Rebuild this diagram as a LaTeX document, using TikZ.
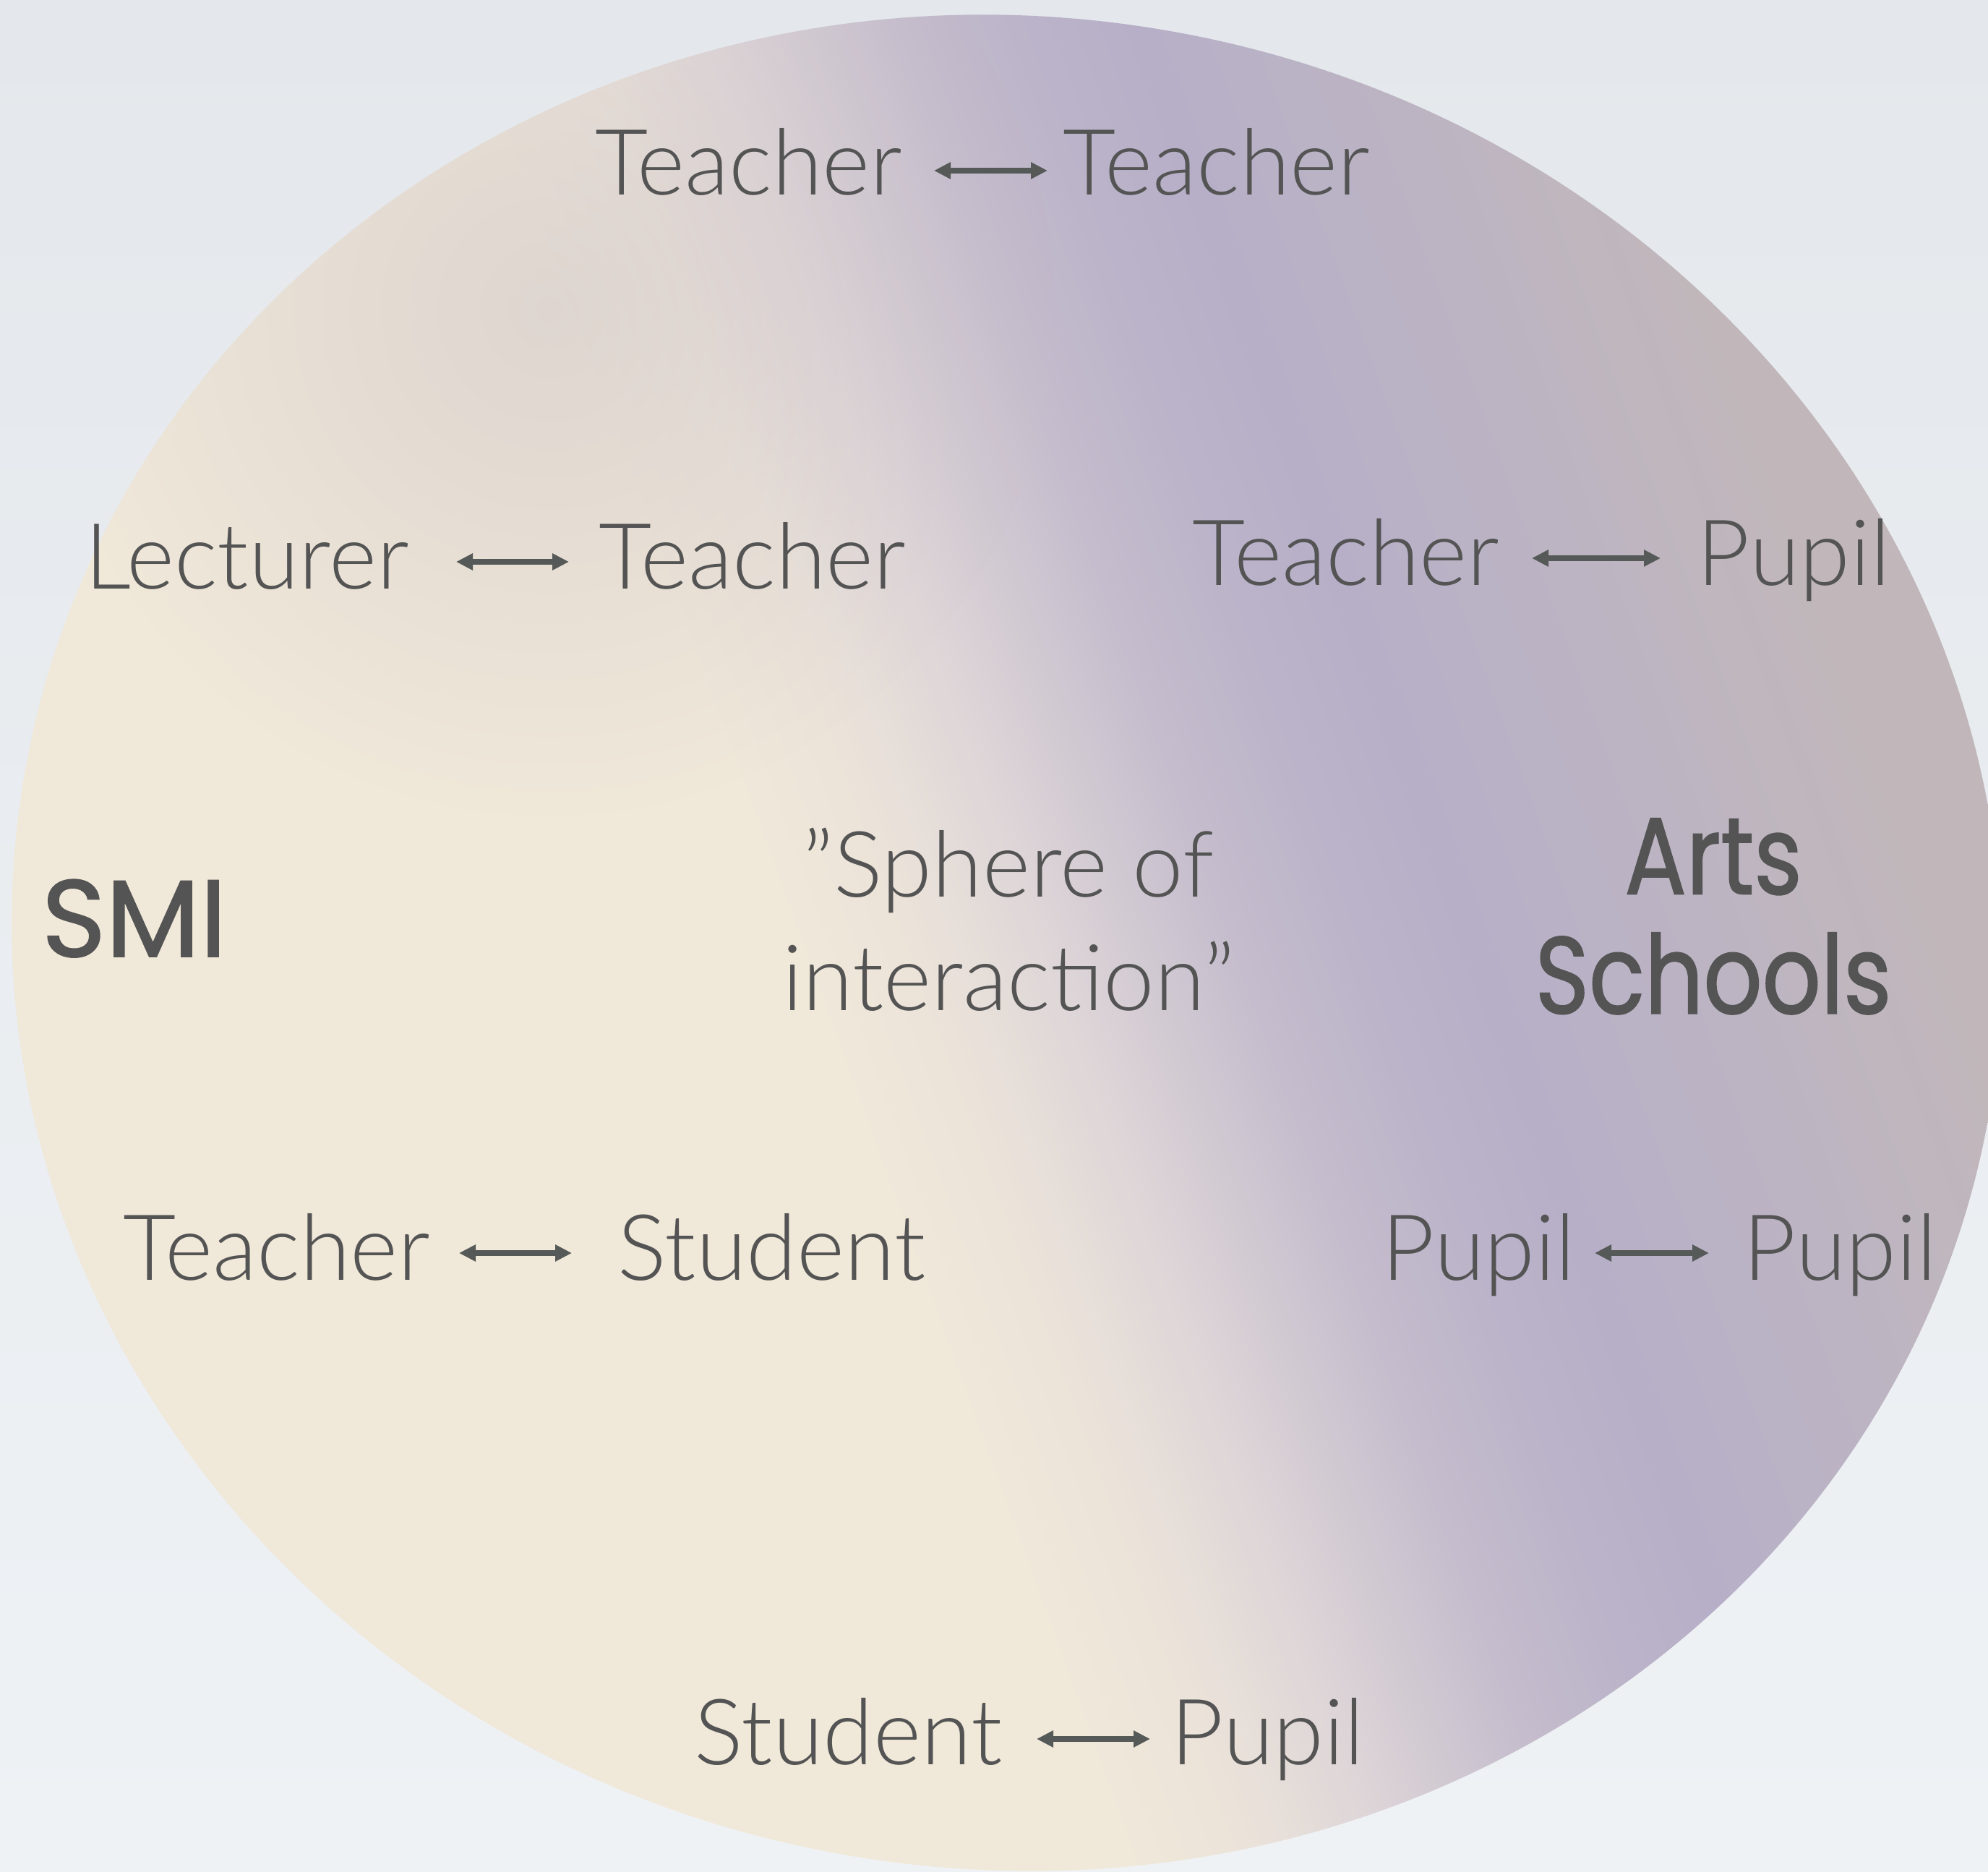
\documentclass[tikz,border=0pt]{standalone}
\usepackage{fontspec}
\newfontfamily\thinfont{Lato Light}
\newfontfamily\heavyfont{Poppins}[FakeStretch=0.84,FakeBold=1.2]
\usetikzlibrary{positioning,arrows.meta,fadings}

\definecolor{papertop}{HTML}{E4E8EC}
\definecolor{paperbot}{HTML}{EFF2F5}
\definecolor{sand}{HTML}{F0E8D9}
\definecolor{sandA}{HTML}{EBE3D9}
\definecolor{sandB}{HTML}{DFD7D8}
\definecolor{lilacA}{HTML}{D2CAD2}
\definecolor{lilacB}{HTML}{C6BECD}
\definecolor{lilacC}{HTML}{BCB4C9}
\definecolor{lilacD}{HTML}{B7AFC8}
\definecolor{lilacE}{HTML}{BBB3C4}
\definecolor{mauveA}{HTML}{BFB6BE}
\definecolor{mauveB}{HTML}{C1B7BA}
\definecolor{mist}{HTML}{CCC3C7}
\definecolor{ink}{HTML}{545454}
\definecolor{arrowink}{HTML}{555957}

\pgfdeclarehorizontalshading{blend}{100bp}{color(0bp)=(sand); color(45.6bp)=(sand);
  color(48.2bp)=(sandA); color(50.6bp)=(sandB); color(52.6bp)=(lilacA);
  color(54.4bp)=(lilacB); color(56.9bp)=(lilacC); color(59.4bp)=(lilacD);
  color(63.1bp)=(lilacE); color(67bp)=(mauveA); color(69.5bp)=(mauveB); color(100bp)=(mauveB)}
\tikzfading[name=haze, inner color=transparent!0, outer color=transparent!100]

\begin{document}
\begin{tikzpicture}[>={Triangle[length=2.3mm,width=2.2mm]},
    every node/.style={inner sep=0pt,text=ink},
    word/.style={font=\thinfont\fontsize{36}{44.8}\selectfont},
    group/.style={font=\heavyfont\fontsize{43}{47}\selectfont},
    pair/.style 2 args={<->,draw=arrowink,line width=0.8mm,shorten <=#1,shorten >=#2}]

    % paper and the sphere
    \shade[top color=papertop, bottom color=paperbot] (0,0) rectangle (27.5,25.88);
    \useasboundingbox (0,0) rectangle (27.5,25.88);
    \begin{scope}
        \clip[rotate around={-9:(13.93,12.84)}] (13.93,12.84) ellipse [x radius=13.79cm, y radius=12.81cm];
        \begin{scope}[transform canvas={rotate around={20:(13.93,12.84)}}]
            \shade[shading=blend] (-2.07,-3.16) rectangle (29.93,28.84);
        \end{scope}
        \fill[mist, fill opacity=0.5, path fading=haze] (7.6,21.6) circle (7);
    \end{scope}

    % the two sides
    \node[group, font=\heavyfont\addfontfeature{FakeStretch=1}\fontsize{43}{47}\selectfont,
          anchor=base west] (smi) at (0.57,12.65) {SMI};
    \node[group, align=center, anchor=north] (arts) at (23.70,14.57) {Arts\\Schools};
    \node[word, align=center, anchor=north] (sphere) at (13.95,14.44) {”Sphere of\\interaction”};

    % the pairs
    \node[word, anchor=base east] (tchA) at (12.49,23.18) {Teacher};
    \node[word, base right=2.21cm of tchA] (tchB) {Teacher};
    \draw[pair={0.43cm}{0.21cm}] ([yshift=3.4mm]tchA.base east) -- ([yshift=3.4mm]tchB.base west);

    \node[word, anchor=base east] (lec) at (5.66,17.73) {Lecturer};
    \node[word, base right=2.62cm of lec] (tchC) {Teacher};
    \draw[pair={0.65cm}{0.41cm}] ([yshift=3.8mm]lec.base east) -- ([yshift=3.8mm]tchC.base west);

    \node[word, anchor=base east] (tchD) at (20.75,17.78) {Teacher};
    \node[word, base right=2.72cm of tchD] (pupA) {Pupil};
    \draw[pair={0.44cm}{0.50cm}] ([yshift=3.8mm]tchD.base east) -- ([yshift=3.8mm]pupA.base west);

    \node[word, anchor=base east] (tchE) at (5.96,8.17) {Teacher};
    \node[word, base right=2.58cm of tchE] (stuA) {Student};
    \draw[pair={0.39cm}{0.63cm}] ([yshift=3.8mm]tchE.base east) -- ([yshift=3.8mm]stuA.base west);

    \node[word, anchor=base east] (pupB) at (21.80,8.17) {Pupil};
    \node[word, base right=2.31cm of pupB] (pupC) {Pupil};
    \draw[pair={0.26cm}{0.47cm}] ([yshift=3.8mm]pupB.base east) -- ([yshift=3.8mm]pupC.base west);

    \node[word, anchor=base east] (stuB) at (13.87,1.48) {Student};
    \node[word, base right=2.32cm of stuB] (pupD) {Pupil};
    \draw[pair={0.47cm}{0.28cm}] ([yshift=3.5mm]stuB.base east) -- ([yshift=3.5mm]pupD.base west);

\end{tikzpicture}
\end{document}
